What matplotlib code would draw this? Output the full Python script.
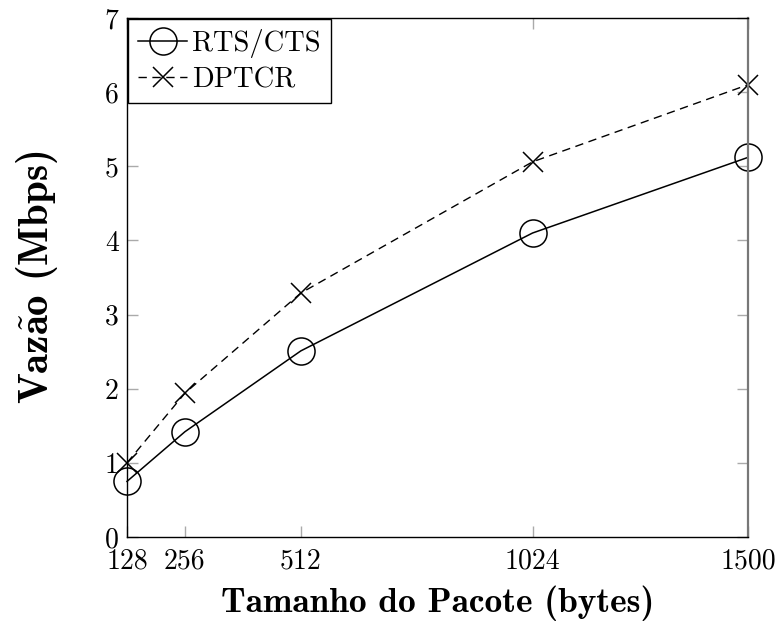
import matplotlib
matplotlib.use("Agg")
import matplotlib.pyplot as plt

plt.rcParams['font.family'] = 'serif'
plt.rcParams['font.serif'] = ['cmr10']
plt.rcParams['mathtext.fontset'] = 'cm'
plt.rcParams['axes.formatter.use_mathtext'] = True

tamanho = [128, 256, 512, 1024, 1500]
rts_cts = [0.75, 1.42, 2.51, 4.10, 5.12]
dptcr = [1.00, 1.94, 3.29, 5.06, 6.10]
yticks = [0, 1, 2, 3, 4, 5, 6, 7]

fig = plt.figure(figsize=(7.79, 6.21), dpi=100)
ax = fig.add_axes([127 / 779, 1 - 537 / 621, (748 - 127) / 779, (537 - 18) / 621])

ax.plot(tamanho, rts_cts, color='black', lw=1.1, marker='o', markersize=19.5,
        markerfacecolor='none', markeredgewidth=1.1, label='RTS/CTS')
ax.plot(tamanho, dptcr, color='black', lw=1.0, linestyle=(0, (6, 4)), marker='x',
        markersize=14, markeredgewidth=1.1, label='DPTCR')

ax.set_xlim(128, 1500)
ax.set_ylim(0, 7)
ax.set_xticks(tamanho)
ax.set_xticklabels([str(t) for t in tamanho])
ax.set_yticks(yticks)
ax.set_yticklabels([str(t) for t in yticks])
ax.tick_params(direction='in', length=8, width=1.0, color='#aaaaaa',
               top=True, right=True, labelsize=20)
ax.tick_params(axis='x', pad=8)
ax.tick_params(axis='y', pad=6)
for s in ax.spines.values():
    s.set_linewidth(1.0)
ax.spines['right'].set_color('#777777')
ax.spines['right'].set_linewidth(1.6)
for ln in ax.lines:
    ln.set_clip_on(False)

ax.set_xlabel('Tamanho do Pacote (bytes)', fontfamily='cmb10', fontsize=25.5, labelpad=8)
ax.set_ylabel(r'Vaz$\mathbf{\tilde{a}}$o (Mbps)', fontfamily='cmb10', fontsize=29.5, labelpad=32)

leg = ax.legend(loc='upper left', fontsize=20.5, frameon=True, fancybox=False,
                edgecolor='black', framealpha=1, borderpad=0.35, handlelength=1.7,
                handletextpad=0.2, labelspacing=0.3, borderaxespad=0.05)
leg.get_frame().set_linewidth(1.0)

fig.savefig('out.png', dpi=100)
